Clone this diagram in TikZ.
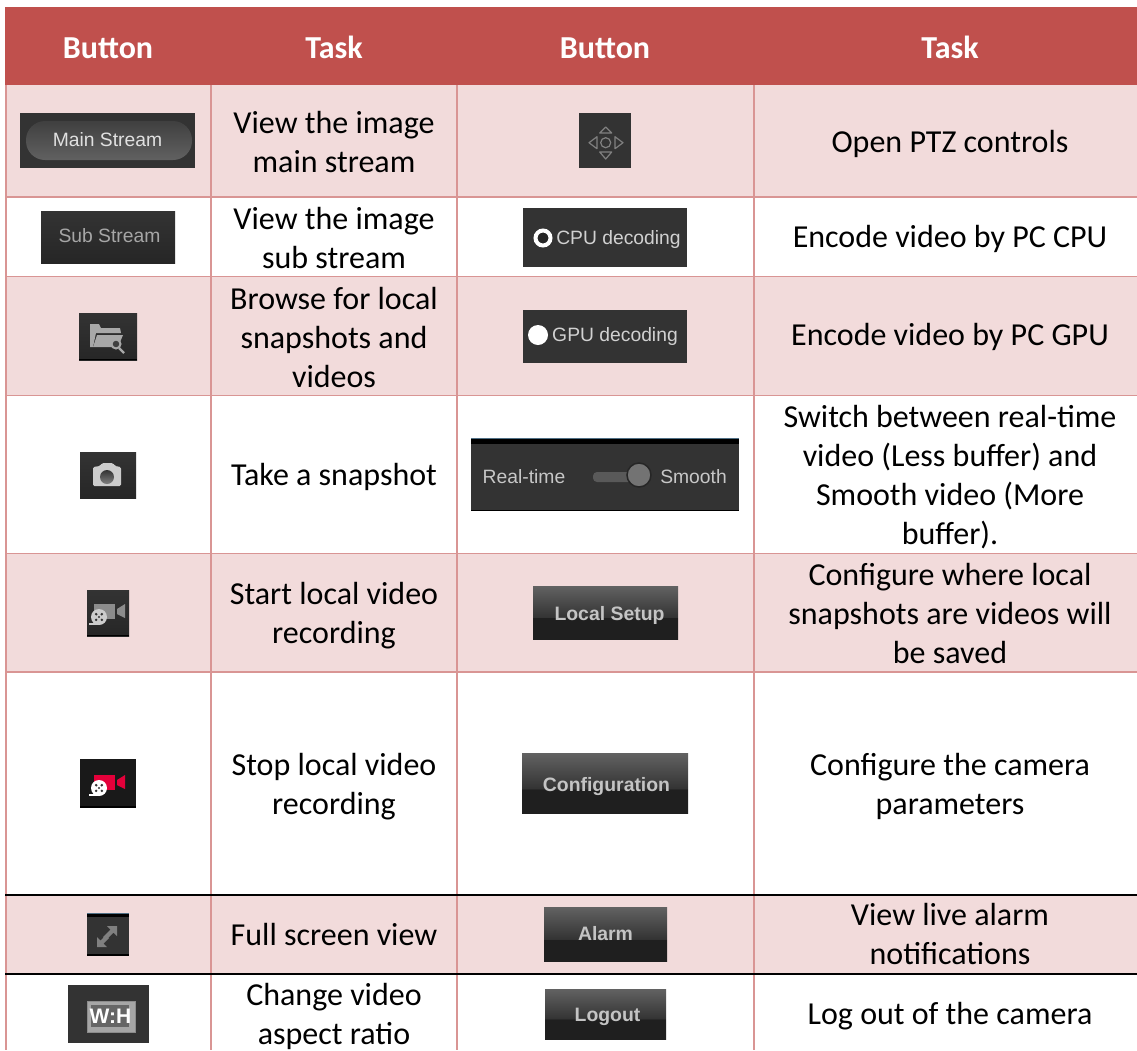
\documentclass[tikz,border=0pt]{standalone}
\usepackage{fontspec}
\setmainfont{Carlito}
\newfontfamily\btnfont{Liberation Sans}
\definecolor{hdr}{HTML}{C0504D}
\definecolor{band}{HTML}{F2DBDB}
\definecolor{rule}{HTML}{D99594}
\definecolor{bdark}{HTML}{333333}
\definecolor{blow}{HTML}{1F1F1F}
\definecolor{btop}{HTML}{626262}
\definecolor{btxt}{HTML}{C4C4C4}
\definecolor{icon}{HTML}{A8A8A8}
\definecolor{recred}{HTML}{E4003A}
\definecolor{stripe}{HTML}{4F6F85}
\pgfdeclareverticalshading{btnshade}{100bp}{color(0bp)=(blow); color(45bp)=(blow); color(45.1bp)=(bdark); color(75bp)=(btop); color(100bp)=(btop)}
\newcommand{\tstrut}{\vrule height 25pt depth 5pt width 0pt}
\tikzset{
  x=1pt,y=-1pt,
  cell/.style={inner sep=0pt,align=center,text=black,font=\fontsize{32}{39}\selectfont},
  head/.style={inner sep=0pt,text=white,font=\fontsize{32}{38}\selectfont\bfseries},
  boxflat/.style={draw=none,fill=bdark,inner sep=0pt,outer sep=0pt},
  boxgrad/.style={draw=none,top color=bdark,bottom color=black!85!white,inner sep=0pt,outer sep=0pt},
  boxbtn/.style={draw=none,shading=btnshade,inner sep=0pt,outer sep=0pt},
  lab/.style={inner sep=0pt,text=btxt,font=\fontsize{19.3}{24}\selectfont\btnfont},
  labb/.style={inner sep=0pt,text=btxt,font=\fontsize{19.4}{24}\selectfont\btnfont\bfseries},
  tablerule/.style={draw=rule,line width=1.8pt},
  blackrule/.style={draw=black,line width=2pt},
  ptzline/.style={draw=black!50!white,line width=1.2pt,line join=round},
}
% name, x1, y1, x2, y2, style
\newcommand{\btn}[6]{\node[#6,minimum width=#4pt-#2pt,minimum height=#5pt-#3pt] (#1) at ({(#2+#4)/2},{(#3+#5)/2}) {};}
% text cell: name, x, y, text
\newcommand{\tcell}[4]{\node[cell] (#1) at (#2,#3) {#4};}
% video camera icon: reel centre x,y, body colour, reel colour
\newcommand{\vcam}[4]{%
  \fill[#3] ({#1-5},{#2-13}) rectangle ({#1+16},{#2+2});
  \fill[#3] ({#1+18},{#2-8}) -- ({#1+26},{#2-13}) -- ({#1+26},{#2+1}) -- ({#1+18},{#2-3}) -- cycle;
  \fill[#4] (#1,#2) circle (8);
  \fill[#4] ({#1-10},{#2+6}) rectangle ({#1+1},{#2+8});
  \foreach \a in {45,135,225,315}{\fill[black!80!white] ({#1+4*cos(\a)},{#2+4*sin(\a)}) circle (1.4);}
  \fill[black!80!white] (#1,#2) circle (1.1);
}
\begin{document}
\begin{tikzpicture}
\useasboundingbox (0,0) rectangle (1137,1050);
\fill[white] (0,0) rectangle (1137,1050);
% bands
\fill[band] (6,85) rectangle (1137,197);
\fill[band] (6,276.5) rectangle (1137,395.5);
\fill[band] (6,553.5) rectangle (1137,672);
\fill[band] (6,894.5) rectangle (1137,973.5);
% rules
\foreach \yy in {197,276.5,395.5,553.5,672}{\draw[tablerule] (5,\yy) -- (1137,\yy);}
\foreach \xx in {6,211,457,754}{\draw[tablerule] (\xx,85) -- (\xx,1050);}
\draw[blackrule] (5,894.5) -- (1137,894.5);
\draw[blackrule] (5,973.5) -- (1137,973.5);
% header
\fill[hdr] (5,7) rectangle (1137,85);
\node[head,anchor=base] (h1) at (108,58) {Button};
\node[head,anchor=base] (h2) at (334,58) {Task};
\node[head,anchor=base] (h3) at (605,58) {Button};
\node[head,anchor=base] (h4) at (950,58) {Task};
% task text
\tcell{t1}{334}{142.5}{\tstrut View the image\\main stream\tstrut}
\tcell{t2}{334}{239}{\tstrut View the image\\sub stream\tstrut}
\tcell{t3}{334}{338}{\tstrut Browse for local\\snapshots and\\videos\tstrut}
\tcell{t4}{334}{476}{\tstrut Take a snapshot}
\tcell{t5}{334}{614}{\tstrut Start local video\\recording\tstrut}
\tcell{t6}{334}{785}{\tstrut Stop local video\\recording\tstrut}
\tcell{t7}{334}{935}{\tstrut Full screen view}
\tcell{t8}{334}{1015}{\tstrut Change video\\aspect ratio\tstrut}
\tcell{u1}{950}{142.5}{\tstrut Open PTZ controls}
\tcell{u2}{950}{238}{\tstrut Encode video by PC CPU}
\tcell{u3}{950}{336}{\tstrut Encode video by PC GPU}
\tcell{u4}{950}{476}{\tstrut Switch between real-time\\video (Less buffer) and\\Smooth video (More\\buffer).\tstrut}
\tcell{u5}{950}{614}{\tstrut Configure where local\\snapshots are videos will\\be saved\tstrut}
\tcell{u6}{950}{785}{\tstrut Configure the camera\\parameters\tstrut}
\tcell{u7}{950}{935}{\tstrut View live alarm\\notifications\tstrut}
\tcell{u8}{950}{1015}{\tstrut Log out of the camera}
% Main Stream
\btn{bmain}{20}{113}{195}{168}{boxflat}
\node[draw=none,top color=black!75!white,bottom color=black!62!white,rounded corners=19pt,minimum width=166pt,minimum height=39pt,inner sep=0pt] (pill) at (109,140.5) {};
\node[lab,text=black!12!white] (lmain) at (107.5,140) {Main Stream};
% Sub Stream
\btn{bsub}{41}{211}{175}{263}{boxgrad}
\node[lab,text=black!35!white] (lsub) at (109.5,236) {Sub Stream};
% Folder
\btn{bfold}{79}{313}{137}{360}{boxgrad}
\fill[black] (79,359) rectangle (137,360);
\fill[icon] (90,324) -- (99,324) -- (101,328) -- (120,328) -- (121,333) -- (96,333) -- (93,347) -- (90,347) -- cycle;
\fill[icon] (97,335) -- (123,335) -- (118,347) -- (93,347) -- cycle;
\draw[icon,line width=2pt,fill=black!75!white] (116,344) circle (4.5);
\draw[icon,line width=2.2pt] (119,348) -- (124,353);
% Camera
\btn{bcam}{80}{452}{136}{498}{boxgrad}
\fill[black!20!white,rounded corners=1.5pt] (93,467) -- (100,466) -- (102,463) -- (113,463) -- (115,466) -- (121,467) -- (121,486) -- (93,486) -- cycle;
\shade[top color=black!80!white,bottom color=black!50!white] (107,477) circle (7);
% Record
\btn{brec}{87}{590}{129}{636}{boxgrad}
\fill[black] (87,635) rectangle (129,636);
\vcam{99}{617}{black!45!white}{black!20!white}
% Stop
\btn{bstop}{80}{759}{136}{808}{boxflat}
\fill[black!90!white] (80,759) rectangle (136,808);
\fill[black] (80,806) rectangle (136,808);
\vcam{99}{788}{recred}{white}
% Full screen
\btn{bfull}{87}{913}{129}{956}{boxflat}
\fill[black] (87,913) rectangle (129,917);
\fill[stripe] (87,913) rectangle (129,913.7);
\fill[black] (87,954) rectangle (129,956);
\fill[black!50!white] (117,926) -- (117,936) -- (113.5,932.5) -- (106,940) -- (103,937) -- (110.5,929.5) -- (107,926) -- cycle;
\fill[black!50!white] (97,947) -- (97,937) -- (100.5,940.5) -- (106,935) -- (109,938) -- (103.5,943.5) -- (107,947) -- cycle;
% W:H
\btn{bwh}{68}{985}{149}{1043}{boxflat}
\draw[black!45!white,fill=black!35!white,line width=1pt] (87,1001) rectangle (135,1032);
\fill[black!60!white] (91,1005) rectangle (129,1027);
\node[inner sep=0pt,text=white,font=\fontsize{21}{24}\selectfont\btnfont\bfseries] (lwh) at (110.5,1016) {W:H};
% PTZ
\btn{bptz}{579}{113}{631}{168}{boxflat}
\draw[ptzline] (605.7,142.7) circle (5);
\draw[ptzline] (605.7,127) -- (611.7,133) -- (599.7,133) -- cycle;
\draw[ptzline] (605.7,159) -- (611.7,152) -- (599.7,152) -- cycle;
\draw[ptzline] (589,142.7) -- (597,136.7) -- (597,148.7) -- cycle;
\draw[ptzline] (623,142.7) -- (615,136.7) -- (615,148.7) -- cycle;
% CPU
\btn{bcpu}{523}{208}{687}{267}{boxflat}
\draw[white,line width=4pt,fill=black!85!white] (543,238) circle (7.5);
\node[lab,text=black!18!white] (lcpu) at (618.5,240) {CPU decoding};
% GPU
\btn{bgpu}{523}{310}{687}{363}{boxflat}
\fill[white] (538,335) circle (10);
\node[lab,text=black!18!white] (lgpu) at (615,337) {GPU decoding};
% Real-time slider
\btn{breal}{471}{438}{739}{511}{boxflat}
\fill[black] (471,438) rectangle (739,444);
\fill[stripe] (471,438) rectangle (739,439);
\fill[black] (471,510) rectangle (739,511);
\fill[black!65!white,rounded corners=4pt] (593,472) rectangle (632,482);
\draw[black!85!white,fill=black!55!white,line width=1.5pt] (639,475) circle (12);
\node[lab,text=black!22!white] (lrt) at (524,477) {Real-time};
\node[lab,text=black!22!white] (lsm) at (693.5,477) {Smooth};
% gradient buttons
\btn{bloc}{533}{586}{678}{639}{boxbtn}
\node[labb] (lloc) at (609.5,615) {Local Setup};
\btn{bcfg}{522}{753}{688}{813}{boxbtn}
\node[labb] (lcfg) at (606.5,787) {Configuration};
\btn{balm}{544}{907}{667}{961}{boxbtn}
\node[labb] (lalm) at (605.5,934) {Alarm};
\btn{blog}{545}{989}{666}{1039}{boxbtn}
\node[labb] (llog) at (607.5,1017) {Logout};
\end{tikzpicture}
\end{document}
